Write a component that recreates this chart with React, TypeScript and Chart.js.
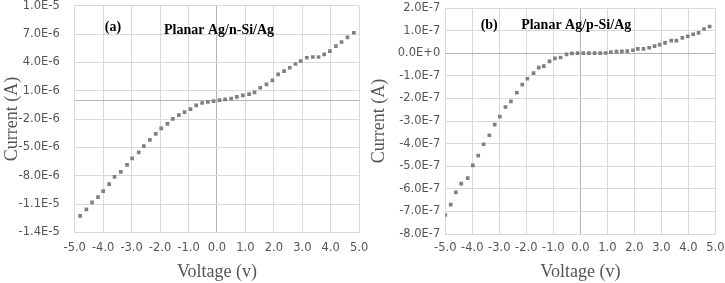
import React, { useEffect, useRef } from 'react';
import { Chart, registerables } from 'chart.js';

Chart.register(...registerables);

// ---------- Data ----------
const xTicks = [-5, -4, -3, -2, -1, 0, 1, 2, 3, 4, 5];

// Panel (a) Planar Ag/n-Si/Ag
const voltageA = [
  -4.81, -4.59, -4.39, -4.18, -4.0, -3.79, -3.6, -3.38, -3.16, -2.98,
  -2.75, -2.57, -2.36, -2.15, -1.96, -1.74, -1.55, -1.34, -1.14, -0.93,
  -0.73, -0.52, -0.32, -0.12, 0.09, 0.29, 0.5, 0.7, 0.91, 1.13,
  1.32, 1.52, 1.74, 1.95, 2.15, 2.36, 2.56, 2.76, 2.94, 3.16,
  3.37, 3.57, 3.77, 3.97, 4.18, 4.38, 4.59, 4.81,
];
const currentA = [
  -1.224e-5, -1.156e-5, -1.082e-5, -1.026e-5, -9.62e-6, -8.88e-6, -8.11e-6, -7.58e-6, -6.84e-6, -6.16e-6,
  -5.53e-6, -4.86e-6, -4.19e-6, -3.56e-6, -2.98e-6, -2.5e-6, -1.97e-6, -1.58e-6, -1.26e-6, -9.4e-7,
  -5.5e-7, -3.0e-7, -1.7e-7, -9e-8, 1e-8, 9e-8, 1.8e-7, 3.5e-7, 5.1e-7, 6.5e-7,
  8.3e-7, 1.32e-6, 1.67e-6, 2.1e-6, 2.74e-6, 3.08e-6, 3.43e-6, 3.83e-6, 4.14e-6, 4.49e-6,
  4.57e-6, 4.57e-6, 4.85e-6, 5.2e-6, 5.73e-6, 6.16e-6, 6.65e-6, 7.14e-6,
];
const yTicksA = [-1.4e-5, -1.1e-5, -8e-6, -5e-6, -2e-6, 0, 1e-6, 4e-6, 7e-6, 1e-5];
const hiddenLabelsA = [0];
const labelsA = [
  { text: '(a)', x: -3.94, y: 7.7e-6 },
  { text: 'Planar Ag/n-Si/Ag', x: -1.86, y: 7.4e-6 },
];

// Panel (b) Planar Ag/p-Si/Ag
const voltageB = [
  -5.0, -4.8, -4.61, -4.41, -4.17, -3.98, -3.78, -3.58, -3.37, -3.17,
  -2.98, -2.77, -2.57, -2.35, -2.15, -1.96, -1.73, -1.54, -1.35, -1.14,
  -0.94, -0.73, -0.51, -0.31, -0.1, 0.11, 0.32, 0.53, 0.74, 0.94,
  1.13, 1.34, 1.54, 1.74, 1.95, 2.13, 2.34, 2.55, 2.75, 2.94,
  3.14, 3.37, 3.56, 3.78, 3.98, 4.18, 4.38, 4.58, 4.79,
];
const currentB = [
  -7.16e-7, -6.7e-7, -6.16e-7, -5.77e-7, -5.53e-7, -4.96e-7, -4.53e-7, -4.03e-7, -3.63e-7, -3.16e-7,
  -2.81e-7, -2.38e-7, -2.13e-7, -1.75e-7, -1.39e-7, -1.13e-7, -8.8e-8, -6.4e-8, -5.7e-8, -3.6e-8,
  -2.3e-8, -1.9e-8, -5e-9, -1e-9, 0, 0, 0, 0, 0, 1e-9,
  5e-9, 7e-9, 8e-9, 9e-9, 1.3e-8, 1.9e-8, 1.9e-8, 2.4e-8, 3.1e-8, 3.8e-8,
  4.6e-8, 5.6e-8, 5.6e-8, 6.8e-8, 7.5e-8, 8.4e-8, 9.0e-8, 1.07e-7, 1.18e-7,
];
const yTicksB = [-8e-7, -7e-7, -6e-7, -5e-7, -4e-7, -3e-7, -2e-7, -1e-7, 0, 1e-7, 2e-7];
const hiddenLabelsB: number[] = [];
const labelsB = [
  { text: '(b)', x: -3.69, y: 1.25e-7 },
  { text: 'Planar Ag/p-Si/Ag', x: -2.19, y: 1.25e-7 },
];

// ---------- Styling ----------
const GRID = '#d9d9d9';
const ZERO = '#b3b3b3';
const TICK_COLOR = '#555555';
const POINT_COLOR = '#808080';

type PanelCfg = {
  xs: number[];
  ys: number[];
  yTicks: number[];
  hidden: number[];
  labels: { text: string; x: number; y: number }[];
  yMin: number;
  yMax: number;
  pad: { left: number; top: number; right: number; bottom: number };
  yWidth: number;
  xHeight: number;
  xTickPad: number;
  yTickPad: number;
  yTitlePad: number;
};

function makeLabelPlugin(items: { text: string; x: number; y: number }[]) {
  return {
    id: 'panelLabels',
    afterDatasetsDraw(chart: any) {
      const { ctx, scales } = chart;
      ctx.save();
      ctx.font = 'bold 14px "Liberation Serif"';
      ctx.fillStyle = '#000000';
      ctx.textBaseline = 'middle';
      ctx.textAlign = 'left';
      for (const it of items) {
        ctx.fillText(it.text, scales.x.getPixelForValue(it.x), scales.y.getPixelForValue(it.y));
      }
      ctx.restore();
    },
  };
}

function makeConfig(p: PanelCfg): any {
  return {
    type: 'scatter',
    data: {
      datasets: [
        {
          data: p.xs.map((v, i) => ({ x: v, y: p.ys[i] })),
          pointStyle: 'rect',
          pointRadius: 2.6,
          pointHoverRadius: 2.6,
          pointBorderWidth: 0,
          backgroundColor: POINT_COLOR,
          borderColor: POINT_COLOR,
        },
      ],
    },
    options: {
      responsive: false,
      animation: false,
      events: [],
      layout: { padding: p.pad },
      plugins: { legend: { display: false }, tooltip: { enabled: false } },
      scales: {
        x: {
          type: 'linear',
          min: -5,
          max: 5,
          afterBuildTicks: (s: any) => {
            s.ticks = xTicks.map((v) => ({ value: v }));
          },
          afterFit: (s: any) => {
            s.height = p.xHeight;
            s.paddingLeft = 0;
            s.paddingRight = 0;
          },
          grid: {
            drawTicks: false,
            lineWidth: 1,
            color: (c: any) => (c.tick && c.tick.value === 0 ? ZERO : GRID),
          },
          border: { display: false },
          ticks: {
            padding: p.xTickPad,
            autoSkip: false,
            maxRotation: 0,
            color: TICK_COLOR,
            font: { family: 'DejaVu Sans', size: 11.5 },
            callback: (v: any) => Number(v).toFixed(1),
          },
          title: {
            display: true,
            text: 'Voltage (v)',
            color: TICK_COLOR,
            font: { family: 'Liberation Serif', size: 18 },
            padding: 0,
          },
        },
        y: {
          type: 'linear',
          min: p.yMin,
          max: p.yMax,
          afterBuildTicks: (s: any) => {
            s.ticks = p.yTicks.map((v) => ({ value: v }));
          },
          afterFit: (s: any) => {
            s.width = p.yWidth;
            s.paddingTop = 0;
            s.paddingBottom = 0;
          },
          grid: {
            drawTicks: false,
            lineWidth: 1,
            color: (c: any) => (c.tick && c.tick.value === 0 ? ZERO : GRID),
          },
          border: { display: false },
          ticks: {
            padding: p.yTickPad,
            autoSkip: false,
            color: TICK_COLOR,
            font: { family: 'DejaVu Sans', size: 11.5 },
            callback: (v: any) => {
              const n = Number(v);
              if (p.hidden.indexOf(n) >= 0) return '';
              return n.toExponential(1).toUpperCase();
            },
          },
          title: {
            display: true,
            text: 'Current (A)',
            color: TICK_COLOR,
            font: { family: 'Liberation Serif', size: 18 },
            padding: { top: p.yTitlePad, bottom: 0 },
          },
        },
      },
    },
    plugins: [makeLabelPlugin(p.labels)],
  };
}

const panelA: PanelCfg = {
  xs: voltageA,
  ys: currentA,
  yTicks: yTicksA,
  hidden: hiddenLabelsA,
  labels: labelsA,
  yMin: -1.4e-5,
  yMax: 1e-5,
  pad: { left: 0, top: 5.7, right: 10.8, bottom: 0 },
  yWidth: 74.7,
  xHeight: 50.5,
  xTickPad: 8.4,
  yTickPad: 15,
  yTitlePad: 1,
};

const panelB: PanelCfg = {
  xs: voltageB,
  ys: currentB,
  yTicks: yTicksB,
  hidden: hiddenLabelsB,
  labels: labelsB,
  yMin: -8e-7,
  yMax: 2e-7,
  pad: { left: 0, top: 8, right: 9.7, bottom: 0 },
  yWidth: 83.3,
  xHeight: 49,
  xTickPad: 7.3,
  yTickPad: 5,
  yTitlePad: 6.2,
};

export default function App() {
  const refA = useRef<HTMLCanvasElement>(null);
  const refB = useRef<HTMLCanvasElement>(null);

  useEffect(() => {
    const a = new Chart(refA.current as HTMLCanvasElement, makeConfig(panelA));
    const b = new Chart(refB.current as HTMLCanvasElement, makeConfig(panelB));
    return () => {
      a.destroy();
      b.destroy();
    };
  }, []);

  return (
    <div style={{ position: 'fixed', left: 0, top: 0, width: 725, height: 283, background: '#ffffff' }}>
      <div style={{ position: 'absolute', left: 0, top: 0, width: 370, height: 283 }}>
        <canvas ref={refA} width={370} height={283} style={{ display: 'block' }} />
      </div>
      <div style={{ position: 'absolute', left: 362, top: 0, width: 363, height: 283 }}>
        <canvas ref={refB} width={363} height={283} style={{ display: 'block' }} />
      </div>
    </div>
  );
}
